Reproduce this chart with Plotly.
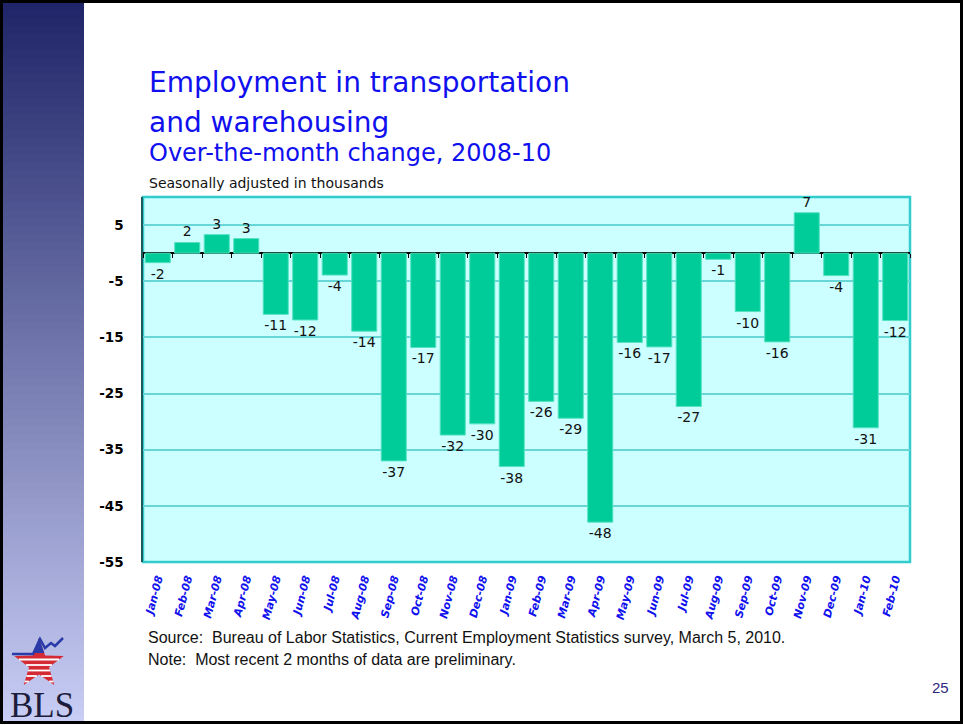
import math
import plotly.graph_objects as go

# Over-the-month change, thousands
months = [
    "Jan-08", "Feb-08", "Mar-08", "Apr-08", "May-08", "Jun-08", "Jul-08", "Aug-08",
    "Sep-08", "Oct-08", "Nov-08", "Dec-08", "Jan-09", "Feb-09", "Mar-09", "Apr-09",
    "May-09", "Jun-09", "Jul-09", "Aug-09", "Sep-09", "Oct-09", "Nov-09", "Dec-09",
    "Jan-10", "Feb-10",
]
changes = [
    -1.7, 1.9, 3.3, 2.6, -10.9, -11.9, -3.9, -13.9,
    -37.0, -16.8, -32.4, -30.4, -38.0, -26.4, -29.4, -47.9,
    -15.9, -16.7, -27.3, -1.1, -10.4, -15.8, 7.2, -4.0,
    -31.1, -12.0,
]
y_ticks = [5, -5, -15, -25, -35, -45, -55]
y_range = [-55, 10]

# page geometry (pixels)
W, H = 963, 725
L, R, T, B = 143, 910, 197, 562
PW, PH = R - L, B - T


def px(x):
    return (x - L) / PW


def py(y):
    return (B - y) / PH


BAR = "#00cc99"
TEAL = "#33cccc"
BLUE = "#1010ee"

fig = go.Figure()

fig.add_trace(go.Bar(
    x=months, y=changes,
    marker=dict(color=BAR, line=dict(color="#55e3bf", width=1)),
    text=["%.0f" % v for v in changes], textposition="outside",
    textfont=dict(family="DejaVu Sans", size=14, color="#111111"),
    cliponaxis=False, hoverinfo="x+y", showlegend=False,
))
# invisible trace that carries the tick marks on the zero line
fig.add_trace(go.Scatter(
    x=list(range(len(months))), y=changes, xaxis="x2", mode="markers",
    marker=dict(opacity=0), hoverinfo="skip", showlegend=False,
))

shapes = []

# left gradient band (each strip runs to the bottom so no seams show)
n = 90
top_c, bot_c = (31, 37, 104), (200, 205, 245)
y0, y1 = 2, 723
for i in range(n):
    t = i / (n - 1)
    c = tuple(round(a + (b - a) * t) for a, b in zip(top_c, bot_c))
    ya = y0 + (y1 - y0) * i / n
    shapes.append(dict(type="rect", xref="paper", yref="paper",
                       x0=px(3), x1=px(84), y0=py(ya), y1=py(y1),
                       line=dict(width=0), fillcolor="rgb(%d,%d,%d)" % c, layer="below"))

# page border
shapes.append(dict(type="rect", xref="paper", yref="paper",
                   x0=px(1.5), x1=px(961.5), y0=py(1.5), y1=py(722.5),
                   line=dict(color="black", width=3)))

# plot area border
shapes.append(dict(type="rect", xref="paper", yref="paper", x0=0, x1=1, y0=0, y1=1,
                   line=dict(color=TEAL, width=2.5), layer="below"))

# BLS logo star
cx, cy, Rs, rs = 39, 664, 26, 10.5
star = []
for i in range(10):
    ang = math.radians(90 - 36 * i)
    rad = Rs if i % 2 == 0 else rs
    star.append((cx + rad * math.cos(ang), cy - rad * math.sin(ang)))


def to_path(pts):
    return "M " + " L ".join("%f,%f" % (px(a), py(b)) for a, b in pts) + " Z"


shapes.append(dict(type="path", xref="paper", yref="paper", path=to_path(star),
                   fillcolor="#d42a35", line=dict(width=0)))


def chords(pts, yl):
    xs = []
    for k in range(len(pts)):
        (xa, ya), (xb, yb) = pts[k], pts[(k + 1) % len(pts)]
        if (ya - yl) * (yb - yl) < 0:
            xs.append(xa + (xb - xa) * (yl - ya) / (yb - ya))
    xs.sort()
    return [(xs[j], xs[j + 1]) for j in range(0, len(xs) - 1, 2)]


for yl in [659.5, 665, 670.5, 676, 681.5]:
    for xa, xb in chords(star, yl):
        shapes.append(dict(type="line", xref="paper", yref="paper",
                           x0=px(xa), x1=px(xb), y0=py(yl), y1=py(yl),
                           line=dict(color="white", width=1.8)))

# blue tip of the star
cut = 653
tip = [star[0]]
for xa, xb in chords(star, cut):
    tip = [(xa, cut), star[0], (xb, cut)]
shapes.append(dict(type="path", xref="paper", yref="paper", path=to_path(tip),
                   fillcolor="#2a3aa8", line=dict(width=0)))

swoosh = [(12, 654), (33, 654), (40, 639), (45, 648), (51, 643), (55, 646), (63, 638)]
shapes.append(dict(type="path", xref="paper", yref="paper",
                   path="M " + " L ".join("%f,%f" % (px(a), py(b)) for a, b in swoosh),
                   line=dict(color="#2a3aa8", width=2.5)))

annotations = []


def note(text, x, y, size, color, family="DejaVu Sans", xanchor="left", yanchor="middle"):
    annotations.append(dict(text=text, x=px(x), y=py(y), xref="paper", yref="paper",
                            xanchor=xanchor, yanchor=yanchor, showarrow=False,
                            font=dict(family=family, size=size, color=color)))


note("Employment in transportation", 147, 83, 28, BLUE)
note("and warehousing", 147, 123, 28, BLUE)
note("Over-the-month change, 2008-10", 147, 153, 24, BLUE)
note("Seasonally adjusted in thousands", 147, 183, 14, "#111111")
note("Source:  Bureau of Labor Statistics, Current Employment Statistics survey, March 5, 2010.",
     146, 637, 16, "#111111", family="Liberation Sans")
note("Note:  Most recent 2 months of data are preliminary.",
     146, 659, 16, "#111111", family="Liberation Sans")
note("25", 951, 687, 15, "#2b2b80", family="Liberation Sans", xanchor="right")
note("BLS", 42, 705, 35, "#1c1c3c", family="Liberation Serif", xanchor="center")

fig.update_layout(
    width=W, height=H,
    margin=dict(l=L, r=W - R, t=T, b=H - B, pad=0, autoexpand=False),
    paper_bgcolor="white", plot_bgcolor="#ccffff",
    bargap=0.15, showlegend=False,
    shapes=shapes, annotations=annotations,
    xaxis=dict(
        type="category", categoryorder="array", categoryarray=months,
        tickangle=-75, showgrid=False, zeroline=False, showline=False, ticks="",
        tickfont=dict(family="DejaVu Sans", size=11, color=BLUE, weight="bold", style="italic"),
        ticklabelstandoff=7,
    ),
    xaxis2=dict(
        overlaying="x", anchor="free", position=(0 - y_range[0]) / (y_range[1] - y_range[0]),
        range=[-0.5, len(months) - 0.5], tick0=-0.5, dtick=1,
        ticks="outside", ticklen=4, tickwidth=1, tickcolor="black",
        showticklabels=False, showgrid=False, zeroline=False, showline=False,
    ),
    yaxis=dict(
        range=y_range, tickvals=y_ticks, ticktext=[str(v) for v in y_ticks], ticks="",
        showgrid=True, gridcolor="#66d6d6", gridwidth=1.5,
        zeroline=True, zerolinecolor="black", zerolinewidth=1.5,
        showline=True, linecolor="#1d5a5a", linewidth=1.5,
        tickfont=dict(family="DejaVu Sans", size=13.5, color="black", weight="bold"),
        ticklabelstandoff=15,
    ),
)

# drop the default 8px body margin so the figure fills the window exactly
fig.write_html("out.html", config={"displayModeBar": False},
               post_script="document.body.style.margin='0px';")
